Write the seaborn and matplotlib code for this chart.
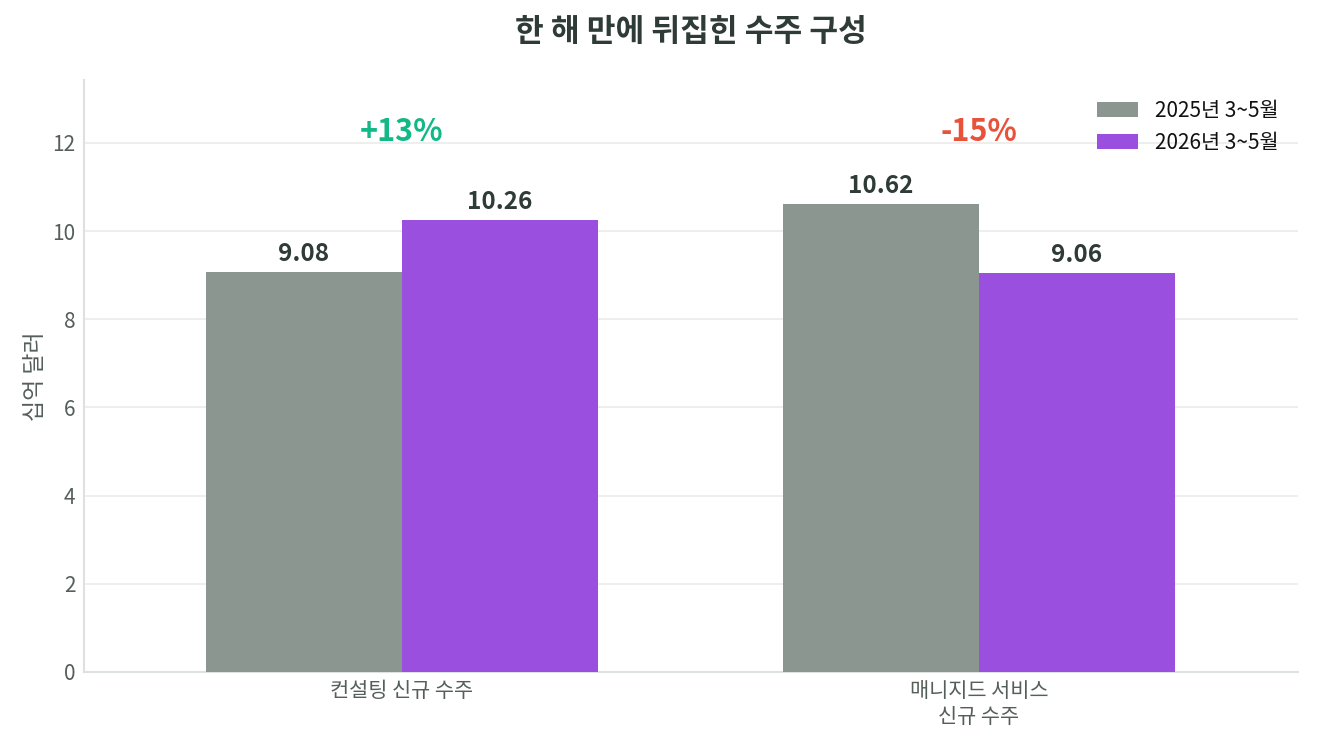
import pandas as pd
import seaborn as sns
import matplotlib.pyplot as plt

# data
categories = ["컨설팅 신규 수주", "매니지드 서비스\n신규 수주"]
periods = ["2025년 3~5월", "2026년 3~5월"]
values_2025 = [9.08, 10.62]
values_2026 = [10.26, 9.06]
changes = ["+13%", "-15%"]

grey = "#8C9691"
purple = "#9B4FDE"
textcol = "#2F3B36"
tickcol = "#555F5A"

df = pd.DataFrame({
    "category": categories * 2,
    "period": [periods[0]] * 2 + [periods[1]] * 2,
    "value": values_2025 + values_2026,
})

sns.set_style("white")
plt.rcParams['font.family'] = ['Noto Sans CJK KR', 'DejaVu Sans']

fig = plt.figure(figsize=(13.2, 7.5), dpi=100)
ax = fig.add_axes([0.0636, 0.104, 0.9197, 0.789])

sns.barplot(data=df, x="category", y="value", hue="period",
            palette=[grey, purple], width=0.68, saturation=1,
            edgecolor="none", ax=ax, zorder=3)

ax.set_xlim(-0.551, 1.553)
ax.set_ylim(0, 13.42)
ax.set_yticks([0, 2, 4, 6, 8, 10, 12])
ax.yaxis.grid(True, color="#EBEBEB", linewidth=1.2, zorder=0)
ax.set_axisbelow(True)
ax.tick_params(axis="both", length=0, labelsize=15, colors=tickcol, pad=6)
ax.set_xlabel("")
ax.set_ylabel("십억 달러", fontsize=16.5, color=tickcol, labelpad=4)

for s in ["top", "right"]:
    ax.spines[s].set_visible(False)
ax.spines["left"].set_color("#DDE2DF")
ax.spines["bottom"].set_color("#DDE2DF")
ax.spines["left"].set_linewidth(1.5)
ax.spines["bottom"].set_linewidth(1.5)

# value labels
for cont in ax.containers:
    ax.bar_label(cont, labels=[f"{v:.2f}" for v in cont.datavalues],
                 padding=4, fontsize=17.5, fontweight="bold", color=textcol)

# change annotations
change_cols = ["#12B886", "#E8513A"]
for i, (txt, c) in enumerate(zip(changes, change_cols)):
    ax.text(i, 12.25, txt, ha="center", va="center", fontsize=22,
            fontweight="bold", color=c)

leg = ax.legend(loc="upper right", frameon=False, fontsize=15,
                handlelength=2.0, handleheight=0.7, borderaxespad=0.3,
                bbox_to_anchor=(0.996, 0.992))
for t in leg.get_texts():
    t.set_color("#111111")

# title centred over the axes
ax.set_title("한 해 만에 뒤집힌 수주 구성", fontsize=22.5, fontweight="bold",
             color=textcol, pad=28)

fig.savefig("out.png", dpi=100)
